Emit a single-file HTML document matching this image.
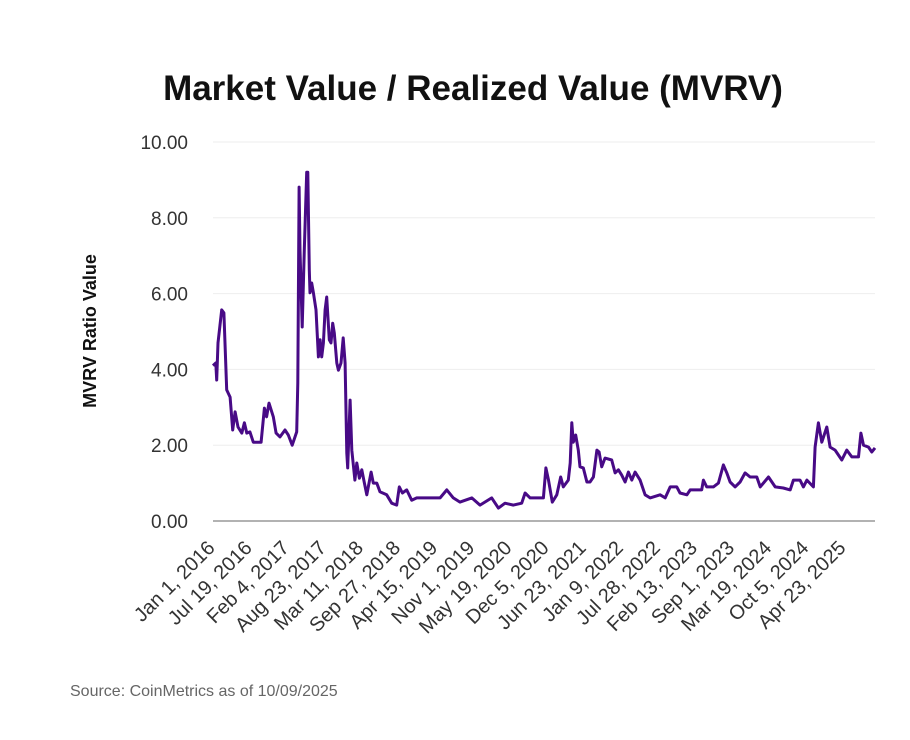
<!DOCTYPE html>
<html><head><meta charset="utf-8"><style>
body{margin:0;background:#fff;font-family:"Liberation Sans",Arial,sans-serif}
</style></head><body>
<svg id="chart" width="910" height="735" xmlns="http://www.w3.org/2000/svg" font-family="Liberation Sans, Arial, sans-serif">
<text x="473" y="100" text-anchor="middle" font-size="35" font-weight="bold" fill="#111">Market Value / Realized Value (MVRV)</text>
<text transform="translate(96,331) rotate(-90)" text-anchor="middle" font-size="18" font-weight="bold" fill="#111">MVRV Ratio Value</text>
<text x="70" y="696" font-size="16" fill="#666">Source: CoinMetrics as of 10/09/2025</text>
<g id="grid"></g><g id="yticks"></g><g id="xticks"></g><g id="series"></g>
</svg>
<script>
const days=[0,15,20,27,47,59,74,92,106,119,135,155,169,182,199,217,259,277,289,302,325,340,361,388,406,427,451,457,464,469,481,492,505,511,519,523,532,541,555,568,577,586,595,604,613,627,636,645,654,667,676,690,702,712,721,726,739,748,765,775,789,802,816,829,852,864,883,900,936,963,990,1004,1021,1044,1071,1098,1143,1224,1260,1295,1331,1395,1439,1502,1538,1574,1619,1664,1682,1709,1781,1794,1808,1829,1853,1874,1888,1915,1925,1934,1942,1955,1969,1978,1996,2015,2032,2050,2069,2081,2095,2113,2149,2167,2185,2203,2221,2239,2257,2275,2302,2329,2356,2410,2437,2464,2500,2517,2554,2572,2634,2643,2661,2697,2724,2751,2769,2787,2814,2841,2868,2895,2931,2949,2994,3030,3074,3111,3128,3164,3182,3201,3236,3245,3263,3281,3308,3326,3353,3389,3416,3443,3479,3492,3506,3533,3551,3568];
const values=[4.1,4.17,3.72,4.7,5.57,5.49,3.46,3.27,2.4,2.88,2.48,2.32,2.59,2.32,2.35,2.08,2.08,2.98,2.75,3.11,2.75,2.32,2.22,2.4,2.27,2.0,2.35,3.64,8.81,7.15,5.12,7.15,9.2,9.2,6.62,6.02,6.28,6.02,5.57,4.33,4.78,4.33,4.7,5.57,5.91,4.78,4.7,5.22,4.96,4.17,3.98,4.17,4.83,4.17,1.79,1.4,3.19,1.87,1.08,1.53,1.13,1.35,1.0,0.69,1.29,1.0,1.0,0.77,0.69,0.47,0.42,0.9,0.74,0.82,0.55,0.61,0.61,0.61,0.82,0.61,0.5,0.61,0.42,0.61,0.34,0.47,0.42,0.47,0.74,0.61,0.61,1.4,1.08,0.5,0.69,1.16,0.9,1.08,1.53,2.59,2.08,2.27,1.87,1.43,1.4,1.03,1.03,1.16,1.87,1.82,1.43,1.66,1.61,1.27,1.35,1.21,1.03,1.29,1.08,1.29,1.08,0.69,0.61,0.69,0.61,0.9,0.9,0.74,0.69,0.82,0.82,1.08,0.9,0.9,1.0,1.48,1.27,1.03,0.9,1.03,1.27,1.16,1.16,0.9,1.16,0.9,0.87,0.82,1.08,1.08,0.9,1.08,0.9,1.95,2.59,2.08,2.48,1.95,1.87,1.61,1.87,1.69,1.69,2.32,2.0,1.95,1.82,1.93];
const yTicks=[0,2,4,6,8,10];
const xTickLabels=["Jan 1, 2016","Jul 19, 2016","Feb 4, 2017","Aug 23, 2017","Mar 11, 2018","Sep 27, 2018","Apr 15, 2019","Nov 1, 2019","May 19, 2020","Dec 5, 2020","Jun 23, 2021","Jan 9, 2022","Jul 28, 2022","Feb 13, 2023","Sep 1, 2023","Mar 19, 2024","Oct 5, 2024","Apr 23, 2025"];
const xTickDays=[0,200,400,600,800,1000,1200,1400,1600,1800,2000,2200,2400,2600,2800,3000,3200,3400];
const X0=213,X1=875,Y0=521,Y1=142,DMAX=3568,VMAX=10;
const xs=d=>X0+(X1-X0)*d/DMAX, ys=v=>Y0-(Y0-Y1)*v/VMAX;
const NS="http://www.w3.org/2000/svg";
function mk(tag,attrs,parent,txt){const e=document.createElementNS(NS,tag);for(const k in attrs)e.setAttribute(k,attrs[k]);if(txt!=null)e.textContent=txt;document.getElementById(parent).appendChild(e);return e;}
yTicks.forEach(v=>{
  const g=mk('line',{x1:X0,x2:X1,y1:ys(v),y2:ys(v),stroke:v===0?'#999':'#eee','stroke-width':v===0?1.5:1},'grid');
  
  
  const t=mk('text',{x:188,y:ys(v)+7,'text-anchor':'end','font-size':19,fill:'#333'},'yticks',v.toFixed(2));
  
  
});
xTickDays.forEach((d,i)=>{
  const x=xs(d);
  const t=mk('text',{transform:`translate(${x+3},${549}) rotate(-45)`,'text-anchor':'end','font-size':20,fill:'#333'},'xticks',xTickLabels[i]);
  
  
});
const p=mk('path',{d:days.map((d,i)=>(i?'L':'M')+xs(d).toFixed(1)+','+ys(values[i]).toFixed(1)).join(''),fill:'none',stroke:'#480a86','stroke-width':3,'stroke-linejoin':'round'},'series');


</script>
</body></html>
